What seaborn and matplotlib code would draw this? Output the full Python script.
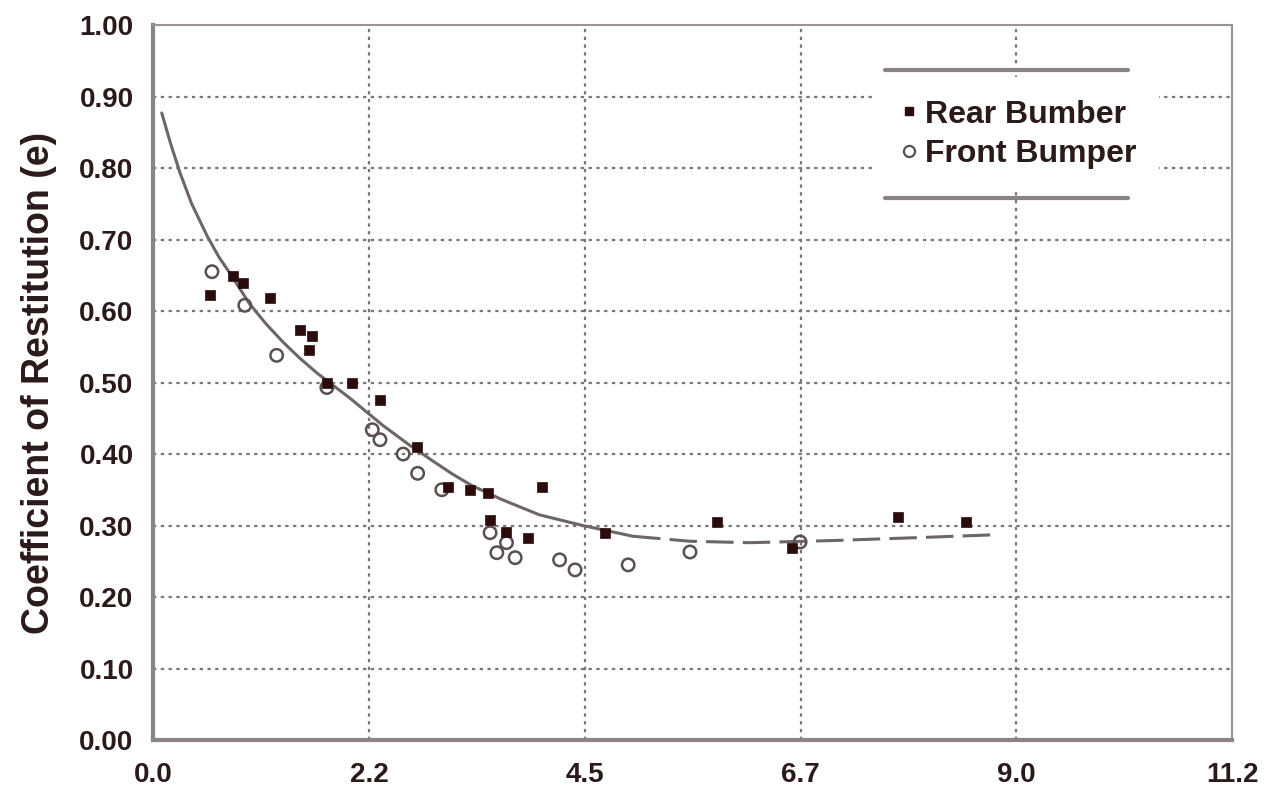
import numpy as np
import pandas as pd
import matplotlib
matplotlib.use("Agg")
import matplotlib.pyplot as plt
import seaborn as sns
from matplotlib.lines import Line2D

# ---- data ----
rear_x = [0.59, 0.83, 0.93, 1.21, 1.52, 1.62, 1.65, 1.80, 2.06, 2.35, 2.73,
          3.05, 3.28, 3.47, 3.49, 3.66, 3.88, 4.03, 4.68, 5.84, 6.62, 7.71, 8.42]
rear_y = [0.622, 0.649, 0.639, 0.618, 0.573, 0.545, 0.565, 0.500, 0.500, 0.476, 0.410,
          0.354, 0.350, 0.345, 0.308, 0.291, 0.283, 0.354, 0.290, 0.305, 0.268, 0.312, 0.305]

front_x = [0.61, 0.95, 1.28, 1.80, 2.27, 2.35, 2.59, 2.74, 2.99, 3.49, 3.56,
           3.66, 3.75, 4.21, 4.37, 4.92, 5.56, 6.70]
front_y = [0.655, 0.608, 0.538, 0.493, 0.434, 0.420, 0.400, 0.373, 0.350, 0.290, 0.262,
           0.276, 0.255, 0.252, 0.238, 0.245, 0.263, 0.277]

curve_x = [0.09, 0.18, 0.28, 0.40, 0.56, 0.68, 0.80, 1.00, 1.17, 1.35, 1.52, 1.70,
           2.04, 2.38, 2.65, 2.90, 3.10, 3.30, 3.60, 4.00, 4.45, 4.97]
curve_y = [0.877, 0.835, 0.793, 0.750, 0.705, 0.676, 0.652, 0.610, 0.582, 0.556, 0.534,
           0.513, 0.478, 0.440, 0.413, 0.390, 0.372, 0.356, 0.337, 0.315, 0.300, 0.285]
dash_x = [4.97, 5.56, 6.18, 7.04, 7.90, 8.70]
dash_y = [0.285, 0.278, 0.276, 0.279, 0.283, 0.287]

x_ticks = [0.0, 2.235, 4.47, 6.705, 8.94, 11.176]
x_labels = ["0.0", "2.2", "4.5", "6.7", "9.0", "11.2"]
y_ticks = np.round(np.arange(0, 1.01, 0.1), 2)
y_labels = [f"{v:.2f}" for v in y_ticks]

LABEL_REAR = "Rear Bumber"
LABEL_FRONT = "Front Bumper"

# ---- style ----
sns.set_theme(style="white")
plt.rcParams['font.family'] = ['Liberation Sans', 'DejaVu Sans']
plt.rcParams['font.weight'] = 'bold'

DARK = "#2b0c0c"
GRAY = "#6e6666"
GRID = "#7d7575"

fig = plt.figure(figsize=(12.69, 7.99), dpi=100)
ax = fig.add_axes([0.1206, 0.0738, 0.8505, 0.8949])

# grid
for xt in x_ticks[1:-1]:
    ax.axvline(xt, color=GRID, lw=1.6, ls=(0, (1.5, 2.0)), zorder=0)
for yt in y_ticks[1:-1]:
    ax.axhline(yt, color=GRID, lw=1.6, ls=(0, (1.5, 2.0)), zorder=0)

# fitted curve
sns.lineplot(x=curve_x, y=curve_y, ax=ax, color=GRAY, lw=2.2, sort=False, zorder=2)
sns.lineplot(x=dash_x, y=dash_y, ax=ax, color=GRAY, lw=2.2, sort=False, zorder=2,
             linestyle=(0, (9, 3)))

# points
df_rear = pd.DataFrame({"x": rear_x, "y": rear_y})
df_front = pd.DataFrame({"x": front_x, "y": front_y})
sns.scatterplot(data=df_front, x="x", y="y", ax=ax, marker="o", s=80,
                facecolor="none", edgecolor="#5a5050", linewidth=1.8, zorder=3)
sns.scatterplot(data=df_rear, x="x", y="y", ax=ax, marker="s", s=50,
                color=DARK, edgecolor=DARK, linewidth=0.5, zorder=4)

ax.set_xlim(0, 11.176)
ax.set_ylim(0, 1.0)
ax.set_xticks(x_ticks)
ax.set_xticklabels(x_labels)
ax.set_yticks(y_ticks)
ax.set_yticklabels(y_labels)
ax.tick_params(axis="both", length=0, labelsize=20, colors="#2a1a1a")
ax.tick_params(axis="y", pad=14)
ax.tick_params(axis="x", pad=16)
ax.set_xlabel("")
ax.set_ylabel("Coefficient of Restitution (e)", fontsize=27, fontweight="bold",
              color="#2a1a1a", labelpad=16)

for side in ["left", "bottom"]:
    ax.spines[side].set_color("#8a8484")
    ax.spines[side].set_linewidth(3.0)
for side in ["top", "right"]:
    ax.spines[side].set_color("#9a9494")
    ax.spines[side].set_linewidth(1.5)

# legend with rules above and below
handles = [
    Line2D([], [], marker="s", ls="none", color=DARK, markersize=6),
    Line2D([], [], marker="o", ls="none", markerfacecolor="none",
           markeredgecolor="#5a5050", markeredgewidth=1.6, markersize=8),
]
leg = ax.legend(handles, [LABEL_REAR, LABEL_FRONT], loc="center",
                bbox_to_anchor=(0.80, 0.847), frameon=True, fontsize=23,
                handletextpad=0.1, handlelength=0.8, labelspacing=0.3,
                borderpad=0.7, borderaxespad=0)
leg.get_frame().set_facecolor("white")
leg.get_frame().set_edgecolor("none")
leg.get_frame().set_alpha(1.0)
for t in leg.get_texts():
    t.set_color("#2a1a1a")
for yy in (0.937, 0.758):
    ax.plot([0.678, 0.903], [yy, yy], transform=ax.transAxes, color="#8a8484",
            lw=3.0, clip_on=False, zorder=6)

fig.savefig("out.png", dpi=100, facecolor="white")
